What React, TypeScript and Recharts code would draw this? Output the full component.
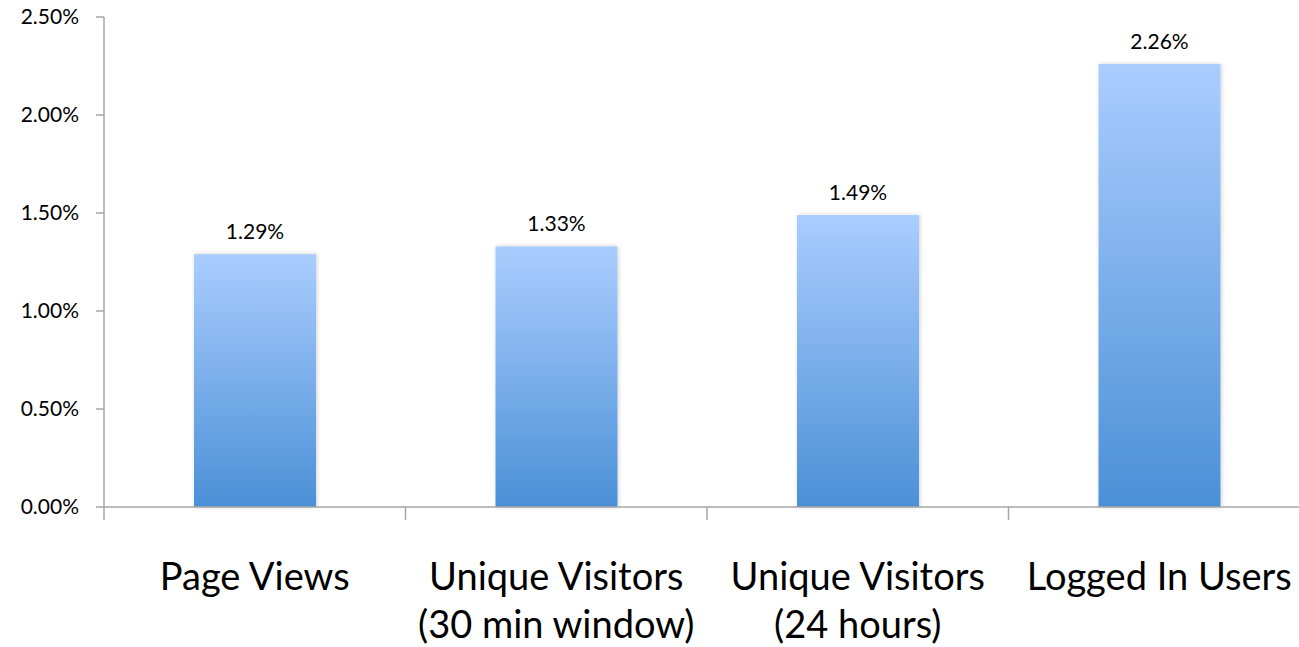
import React from "react";
import { BarChart, Bar, XAxis, YAxis, LabelList } from "recharts";

const categories = ["Page Views", "Unique Visitors|(30 min window)", "Unique Visitors|(24 hours)", "Logged In Users"];
const rates = [0.0129, 0.0133, 0.0149, 0.0226];
const yTicks = [0, 0.005, 0.01, 0.015, 0.02, 0.025];

const data = categories.map((name, i) => ({ name, rate: rates[i] }));

const font = "Lato, 'Open Sans', sans-serif";
const axisColor = "#a6a6a6";
const pct = (v: number) => `${(Number(v) * 100).toFixed(2)}%`;

function CategoryTick(props: any) {
  const { x, y, payload } = props;
  const half = payload?.offset ?? 150.75;
  const lines = String(payload.value).split("|");
  return (
    <g>
      <line x1={x - half} x2={x - half} y1={y} y2={y + 13} stroke={axisColor} strokeWidth={1.5} />
      {lines.map((line, i) => (
        <text
          key={line}
          x={x}
          y={y + 83 + i * 48}
          textAnchor="middle"
          fill="#000"
          fontSize={38}
          fontFamily={font}
        >
          {line}
        </text>
      ))}
    </g>
  );
}

function ShadowBar(props: any) {
  const { x, y, width, height } = props;
  if (!height || height <= 0) return null;
  return <rect x={x} y={y} width={width} height={height} fill="url(#barFill)" filter="url(#barShadow)" />;
}

export default function App() {
  return (
    <div style={{ position: "absolute", left: 0, top: 0, width: 1299, height: 647, overflow: "hidden", background: "#fff" }}>
      <BarChart width={1330} height={647} data={data} margin={{ top: 17, right: 20, bottom: 0, left: 0 }} barSize={122}>
        <defs>
          <linearGradient id="barFill" x1="0" y1="0" x2="0" y2="1">
            <stop offset="0%" stopColor="#aacdfe" />
            <stop offset="100%" stopColor="#4b90d7" />
          </linearGradient>
          <filter id="barShadow" x="-10%" y="-10%" width="120%" height="120%">
            <feDropShadow dx="1" dy="0" stdDeviation="2" floodColor="#000" floodOpacity="0.18" />
          </filter>
        </defs>
        <XAxis
          dataKey="name"
          height={140}
          interval={0}
          tickLine={false}
          tickSize={0}
          tickMargin={0}
          axisLine={{ stroke: axisColor, strokeWidth: 1.5 }}
          tick={<CategoryTick />}
        />
        <YAxis
          width={104}
          domain={[0, 0.025]}
          ticks={yTicks}
          tickFormatter={pct}
          tickSize={8}
          tickMargin={17}
          axisLine={{ stroke: axisColor, strokeWidth: 1.5 }}
          tickLine={{ stroke: axisColor, strokeWidth: 1.5 }}
          tick={{ fill: "#000", fontSize: 21, fontFamily: font }}
        />
        <Bar dataKey="rate" shape={<ShadowBar />} isAnimationActive={false}>
          <LabelList
            dataKey="rate"
            position="top"
            offset={15}
            formatter={pct}
            fill="#000"
            fontSize={21}
            fontFamily={font}
          />
        </Bar>
      </BarChart>
    </div>
  );
}
